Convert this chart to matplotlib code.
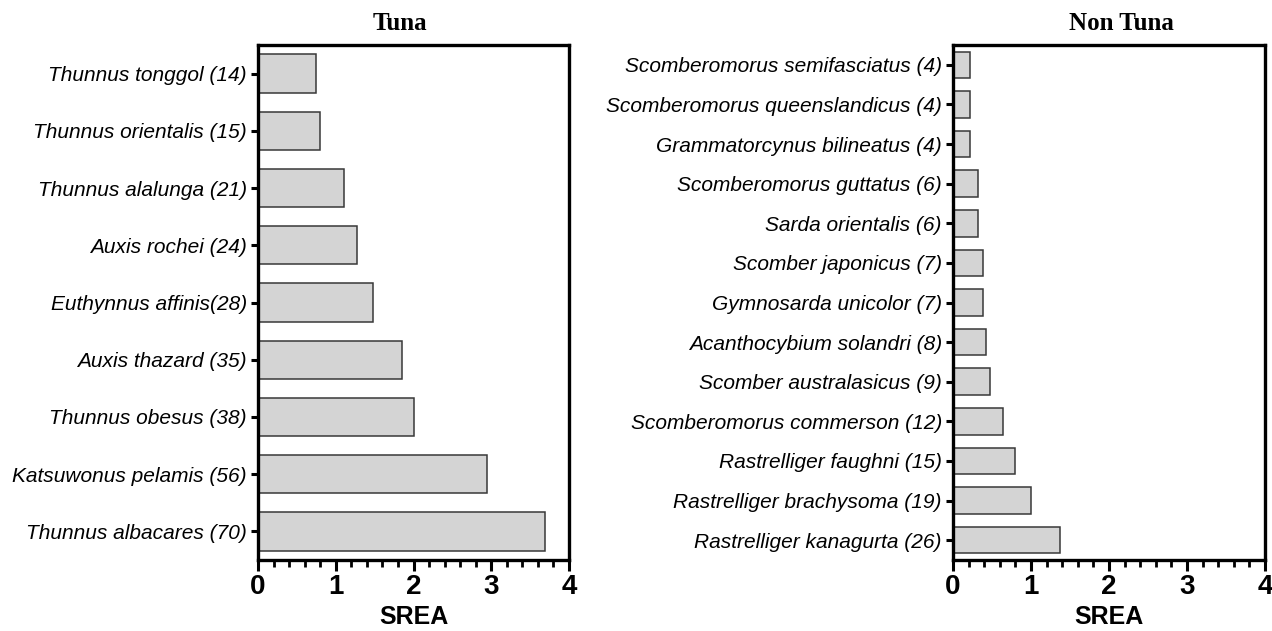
import matplotlib
matplotlib.use("Agg")
import matplotlib.pyplot as plt
from matplotlib.ticker import MultipleLocator

tuna_species = ["Thunnus tonggol (14)", "Thunnus orientalis (15)", "Thunnus alalunga (21)",
                "Auxis rochei (24)", "Euthynnus affinis(28)", "Auxis thazard (35)",
                "Thunnus obesus (38)", "Katsuwonus pelamis (56)", "Thunnus albacares (70)"]
tuna_srea = [0.75, 0.80, 1.10, 1.27, 1.48, 1.85, 2.01, 2.94, 3.69]

nontuna_species = ["Scomberomorus semifasciatus (4)", "Scomberomorus queenslandicus (4)",
                   "Grammatorcynus bilineatus (4)", "Scomberomorus guttatus (6)",
                   "Sarda orientalis (6)", "Scomber japonicus (7)", "Gymnosarda unicolor (7)",
                   "Acanthocybium solandri (8)", "Scomber australasicus (9)",
                   "Scomberomorus commerson (12)", "Rastrelliger faughni (15)",
                   "Rastrelliger brachysoma (19)", "Rastrelliger kanagurta (26)"]
nontuna_srea = [0.22, 0.22, 0.22, 0.32, 0.32, 0.38, 0.38, 0.42, 0.48, 0.64, 0.80, 1.00, 1.37]

xticks = [0, 1, 2, 3, 4]
xlabel = "SREA"
titles = ["Tuna", "Non Tuna"]

W, H = 1272, 631
fig = plt.figure(figsize=(W / 100, H / 100), dpi=100)

def make_axes(left_px, right_px):
    return fig.add_axes([left_px / W, (H - 560) / H, (right_px - left_px) / W, (560 - 45) / H])

ax1 = make_axes(258, 569)
ax2 = make_axes(953, 1265)

for ax, names, vals in [(ax1, tuna_species, tuna_srea), (ax2, nontuna_species, nontuna_srea)]:
    pos = list(range(len(names)))
    ax.barh(pos, vals, height=0.67, color="#d4d4d4", edgecolor="#383838", linewidth=1.1)
    ax.set_ylim(len(names) - 0.5, -0.5)
    ax.set_xlim(0, 4)
    ax.set_yticks(pos)
    ax.set_yticklabels(names, fontsize=15, fontstyle="italic", family="Liberation Sans")
    ax.set_xticks(xticks)
    ax.set_xticklabels([str(t) for t in xticks], fontsize=20, fontweight="bold", family="Liberation Sans")
    ax.xaxis.set_minor_locator(MultipleLocator(0.2))
    ax.tick_params(axis="x", which="major", length=8, width=2.2, direction="out", pad=2)
    ax.tick_params(axis="x", which="minor", length=5, width=2.0, direction="out")
    ax.tick_params(axis="y", which="major", length=5, width=2.2, direction="out", pad=3)
    ax.set_xlabel(xlabel, fontsize=18, fontweight="bold", family="Liberation Sans", labelpad=4)
    for s in ax.spines.values():
        s.set_linewidth(2.4)
        s.set_color("black")

fig.text(400 / W, 1 - 23 / H, titles[0], ha="center", va="center", fontsize=18,
         fontweight="bold", family="Liberation Serif")
fig.text(1121 / W, 1 - 23 / H, titles[1], ha="center", va="center", fontsize=18,
         fontweight="bold", family="Liberation Serif")

fig.savefig("out.png", dpi=100)
